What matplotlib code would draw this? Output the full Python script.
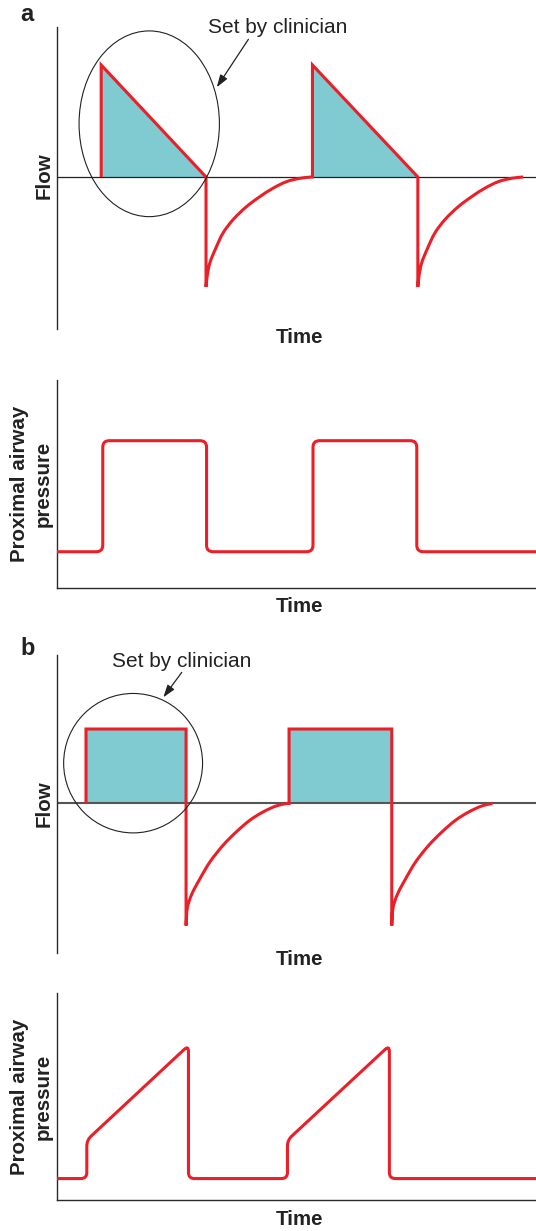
import matplotlib
matplotlib.use("Agg")
import matplotlib.pyplot as plt
from matplotlib.patches import Ellipse, PathPatch
from matplotlib.path import Path
import numpy as np

plt.rcParams['font.family'] = ['Liberation Sans', 'DejaVu Sans']

# ---------------- data ----------------
# Panel a: flow (decelerating inspiratory flow), arbitrary units
a_insp_start = [0.83, 4.80]
a_insp_end = [2.80, 6.78]
a_peak_flow = 1.0
a_exp_dt = [0.00, 0.02, 0.07, 0.17, 0.32, 0.51, 0.76, 1.01, 1.26, 1.51, 1.76, 1.98]
a_exp_flow = [-0.98, -0.89, -0.77, -0.65, -0.50, -0.38, -0.265, -0.176, -0.10, -0.042, -0.012, 0.0]

# Panel a: proximal airway pressure (square wave)
a_press_t = [0.0, 0.86, 0.86, 2.81, 2.81, 4.81, 4.81, 6.76, 6.76, 9.0]
a_press_p = [4.9, 4.9, 19.9, 19.9, 4.9, 4.9, 19.9, 19.9, 4.9, 4.9]

# Panel b: flow (constant inspiratory flow)
b_insp_start = [0.545, 4.36]
b_insp_end = [2.425, 6.29]
b_peak_flow = 0.665
b_exp_dt = [0.0, 0.025, 0.107, 0.263, 0.451, 0.701, 0.952, 1.203, 1.453, 1.704, 1.892]
b_exp_flow = [-1.09, -0.93, -0.81, -0.67, -0.52, -0.37, -0.25, -0.148, -0.074, -0.02, 0.0]

# Panel b: proximal airway pressure (ramp)
b_press_t = [0.0, 0.56, 0.56, 2.47, 2.47, 4.33, 4.33, 6.245, 6.245, 9.0]
b_press_p = [2.9, 2.9, 8.1, 20.9, 2.9, 2.9, 8.1, 20.9, 2.9, 2.9]

# Labels
panel_labels = ['a', 'b']
flow_label = 'Flow'
press_label = 'Proximal airway\npressure'
time_label = 'Time'
note_text = 'Set by clinician'

# ---------------- style ----------------
RED = '#ea1f27'
TEAL = '#80cbd1'
INK = '#222222'
W, H = 536, 1231
DPI = 100

fig = plt.figure(figsize=(W / DPI, H / DPI), dpi=DPI)


def fx(px):
    return px / W


def fy(py):
    return 1 - py / H


def add_axes(top, bottom, left=57, right=536):
    return fig.add_axes([fx(left), fy(bottom), fx(right - left), (bottom - top) / H])


def rounded_path(ax, xs, ys, radius_px):
    pts = ax.transData.transform(np.column_stack([xs, ys]))
    verts = [pts[0]]
    codes = [Path.MOVETO]
    for i in range(1, len(pts) - 1):
        p0, p1, p2 = pts[i - 1], pts[i], pts[i + 1]
        d1 = p0 - p1
        d2 = p2 - p1
        l1 = np.hypot(*d1)
        l2 = np.hypot(*d2)
        r = min(radius_px, l1 / 2, l2 / 2)
        a = p1 + d1 / l1 * r
        b = p1 + d2 / l2 * r
        verts += [a, p1, b]
        codes += [Path.LINETO, Path.CURVE3, Path.CURVE3]
    verts.append(pts[-1])
    codes.append(Path.LINETO)
    verts = ax.transData.inverted().transform(np.array(verts))
    return Path(verts, codes)


def smooth_through(pts):
    """Bezier (CURVE4) segments passing through the given display points."""
    n = len(pts)
    dirs = []
    for i in range(n):
        if i == 0:
            d = pts[1] - pts[0]
        elif i == n - 1:
            d = pts[-1] - pts[-2]
        else:
            d = pts[i + 1] - pts[i - 1]
        dirs.append(d / np.hypot(*d))
    verts, codes = [], []
    for i in range(n - 1):
        seg = np.hypot(*(pts[i + 1] - pts[i]))
        c1 = pts[i] + dirs[i] * seg / 3
        c2 = pts[i + 1] - dirs[i + 1] * seg / 3
        verts += [c1, c2, pts[i + 1]]
        codes += [Path.CURVE4] * 3
    return verts, codes


def flow_path(ax, starts, ends, peak, exp_dt, exp_flow, square):
    tr = ax.transData
    verts, codes = [], []
    for k, (s, e) in enumerate(zip(starts, ends)):
        straight = [(s, 0), (s, peak)]
        if square:
            straight.append((e, peak))
        straight.append((e, 0))
        sp = tr.transform(np.array(straight))
        for j, p in enumerate(sp):
            verts.append(p)
            codes.append(Path.MOVETO if (k == 0 and j == 0) else Path.LINETO)
        ep = tr.transform(np.column_stack([[e + d for d in exp_dt], exp_flow]))
        verts.append(ep[0])
        codes.append(Path.LINETO)
        v, c = smooth_through(ep)
        verts += v
        codes += c
    verts = tr.inverted().transform(np.array(verts))
    return Path(verts, codes)


def style_flow_axes(ax, ylim, zero_color, zero_lw):
    ax.set_xlim(0, 9)
    ax.set_ylim(*ylim)
    for s in ['top', 'right', 'bottom']:
        ax.spines[s].set_visible(False)
    ax.spines['left'].set_color('#2a2a2a')
    ax.spines['left'].set_linewidth(1.0)
    ax.set_xticks([])
    ax.set_yticks([])
    ax.patch.set_alpha(0)
    ax.axhline(0, color=zero_color, lw=zero_lw, zorder=2)


def style_press_axes(ax, ylim):
    ax.set_xlim(0, 9)
    ax.set_ylim(*ylim)
    for s in ['top', 'right']:
        ax.spines[s].set_visible(False)
    for s in ['left', 'bottom']:
        ax.spines[s].set_color('#2a2a2a')
        ax.spines[s].set_linewidth(1.0)
    ax.set_xticks([])
    ax.set_yticks([])
    ax.patch.set_alpha(0)


line_kw = dict(fill=False, edgecolor=RED, lw=2.2, zorder=3, joinstyle='miter', capstyle='butt')

# ---------- Panel a flow ----------
ax1 = add_axes(27, 329)
style_flow_axes(ax1, (-1.357, 1.339), '#222222', 0.9)
for s, e in zip(a_insp_start, a_insp_end):
    ax1.fill([s, s, e], [0, a_peak_flow, 0], color=TEAL, lw=0, zorder=1)
ax1.add_patch(PathPatch(flow_path(ax1, a_insp_start, a_insp_end, a_peak_flow,
                                  a_exp_dt, a_exp_flow, square=False), **line_kw))
ax1.add_patch(Ellipse((1.733, 0.475), 2.637, 1.658, fill=False, edgecolor=INK, lw=0.8,
                      zorder=4, clip_on=False))
ax1.annotate('', xy=(3.002, 0.801), xytext=(3.596, 1.229),
             arrowprops=dict(arrowstyle='-|>,head_length=0.75,head_width=0.25',
                             color=INK, lw=0.9, shrinkA=0, shrinkB=0))
ax1.text(4.15, 1.286, note_text, ha='center', va='baseline', fontsize=15, color=INK,
         clip_on=False)

# ---------- Panel a pressure ----------
ax2 = add_axes(380, 588)
style_press_axes(ax2, (0, 28.1))
ax2.add_patch(PathPatch(rounded_path(ax2, a_press_t, a_press_p, 6.5), fill=False,
                        edgecolor=RED, lw=2.2, zorder=3))

# ---------- Panel b flow ----------
ax3 = add_axes(655, 953)
style_flow_axes(ax3, (-1.335, 1.326), '#555555', 1.5)
for s, e in zip(b_insp_start, b_insp_end):
    ax3.fill([s, s, e, e], [0, b_peak_flow, b_peak_flow, 0], color=TEAL, lw=0, zorder=1)
ax3.add_patch(PathPatch(flow_path(ax3, b_insp_start, b_insp_end, b_peak_flow,
                                  b_exp_dt, b_exp_flow, square=True), **line_kw))
ax3.add_patch(Ellipse((1.43, 0.36), 2.61, 1.245, fill=False, edgecolor=INK, lw=0.8,
                      zorder=4, clip_on=False))
ax3.annotate('', xy=(1.998, 0.948), xytext=(2.344, 1.171),
             arrowprops=dict(arrowstyle='-|>,head_length=0.75,head_width=0.25',
                             color=INK, lw=0.9, shrinkA=0, shrinkB=0))
ax3.text(2.34, 1.22, note_text, ha='center', va='baseline', fontsize=15, color=INK,
         clip_on=False)

# ---------- Panel b pressure ----------
ax4 = add_axes(993, 1200)
style_press_axes(ax4, (0, 28.0))
ax4.add_patch(PathPatch(rounded_path(ax4, b_press_t, b_press_p, 6.0), fill=False,
                        edgecolor=RED, lw=2.2, zorder=3))

# ---------- labels ----------
bold = dict(fontweight='bold', color=INK)
fig.text(fx(20), fy(20.7), panel_labels[0], fontsize=17, ha='left', va='baseline', **bold)
fig.text(fx(20), fy(655), panel_labels[1], fontsize=17, ha='left', va='baseline', **bold)

for yc in (175.5, 803.3):
    fig.text(fx(50), fy(yc), flow_label, rotation=90, rotation_mode='anchor',
             ha='center', va='baseline', fontsize=14.8, **bold)
for yc in (483.5, 1096.5):
    fig.text(fx(10), fy(yc), press_label, rotation=90, rotation_mode='anchor',
             ha='center', va='top', multialignment='center', linespacing=1.33,
             fontsize=14.8, **bold)
for yb in (343.3, 611.7, 965.0, 1225.0):
    fig.text(fx(299), fy(yb), time_label, ha='center', va='baseline', fontsize=14.8, **bold)

fig.savefig('out.png', dpi=DPI)
